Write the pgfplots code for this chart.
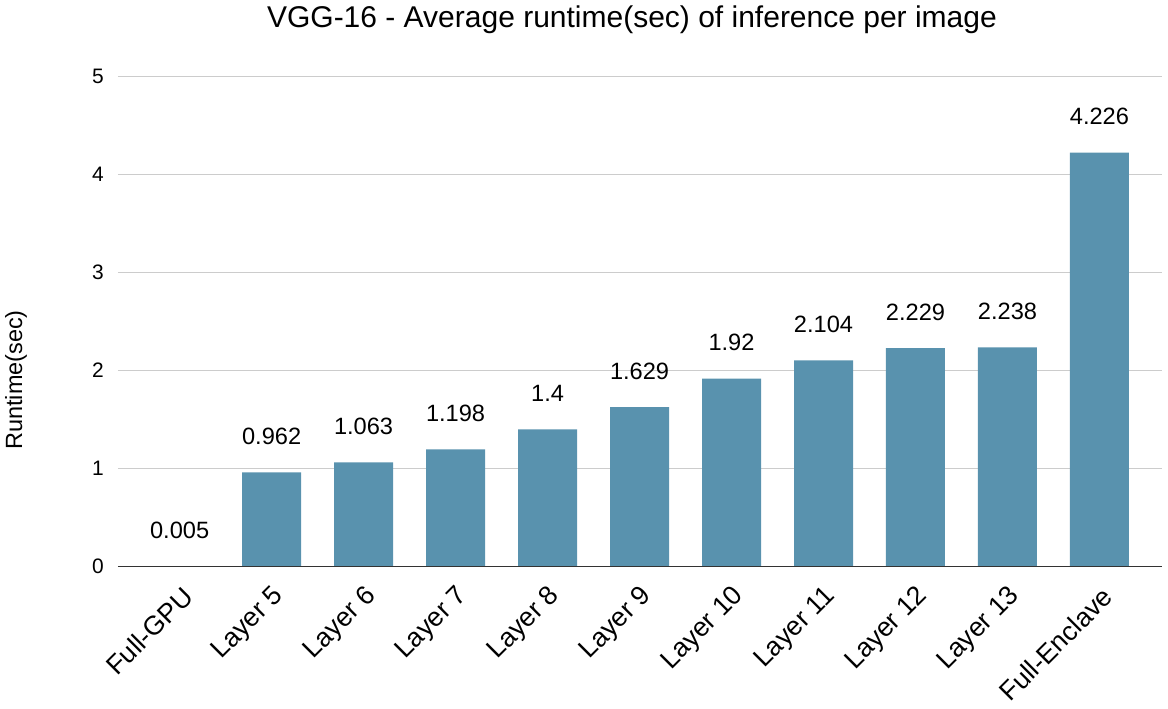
\documentclass[border=0pt]{standalone}
\usepackage{fontspec}
\setmainfont{Liberation Sans}
\usepackage{pgfplots}
\pgfplotsset{compat=1.18}
\definecolor{barblue}{RGB}{89,146,174}
\definecolor{gridgray}{RGB}{204,204,204}
\definecolor{axisgray}{RGB}{51,51,51}
\begin{document}
\begin{tikzpicture}
\useasboundingbox (-88.5pt,-106pt) rectangle (787.5pt,425pt);
\begin{axis}[
  at={(0,0)}, anchor=south west,
  scale only axis,
  width=783pt, height=367.5pt,
  xmin=-0.67, xmax=10.68,
  ymin=0, ymax=5,
  ytick={0,1,2,3,4,5},
  xtick={0,1,2,3,4,5,6,7,8,9,10},
  xticklabels={Full-GPU,Layer 5,Layer 6,Layer 7,Layer 8,Layer 9,Layer 10,Layer 11,Layer 12,Layer 13,Full-Enclave},
  /pgf/number format/assume math mode=true,
  axis line style={draw=none},
  ymajorgrids,
  grid style={gridgray, line width=0.8pt},
  major tick length=0pt,
  tick style={draw=none},
  xtick pos=bottom, ytick pos=left,
  yticklabel style={font=\fontsize{15.7pt}{18pt}\selectfont, inner sep=0pt, xshift=-10.5pt, anchor=east},
  xticklabel style={font=\fontsize{20pt}{24pt}\selectfont, rotate=45, anchor=east, inner sep=0pt, xshift=-9pt, yshift=-18pt},
  ylabel={Runtime(sec)},
  ylabel style={font=\fontsize{17.6pt}{20pt}\selectfont, at={(axis description cs:-0.0977,0.381)}, anchor=center},
  title={VGG-16 - Average runtime(sec) of inference per image},
  title style={font=\fontsize{22.5pt}{26pt}\selectfont, at={(axis description cs:0.4923,1.1014)}, anchor=base, yshift=-6.75pt},
  clip=false,
]
\addplot[ybar, bar width=44.25pt, fill=barblue, draw=none,
  nodes near coords={\pgfmathprintnumber[fixed,precision=3]{\pgfplotspointmeta}},
  nodes near coords style={font=\fontsize{17.7pt}{20pt}\selectfont, anchor=center, yshift=27pt, text=black},
] coordinates {
 (0,0.005) (1,0.962) (2,1.063) (3,1.198) (4,1.4) (5,1.629)
 (6,1.92) (7,2.104) (8,2.229) (9,2.238) (10,4.226)
};
\draw[axisgray, line width=1pt] (axis cs:-0.67,0) -- (axis cs:10.68,0);
\end{axis}
\end{tikzpicture}
\end{document}
